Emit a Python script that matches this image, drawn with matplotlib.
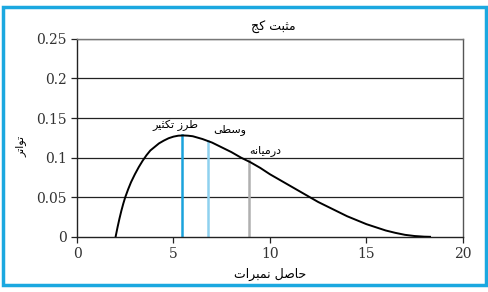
import matplotlib
matplotlib.use("Agg")
import matplotlib.pyplot as plt
import matplotlib.patches as mpatches

# curve (score vs frequency)
scores = [2.0, 2.1, 2.2, 2.3, 2.4, 2.5, 2.65, 2.8, 3.0, 3.2, 3.4, 3.6, 3.8,
          4.0, 4.25, 4.5, 4.75, 5.0, 5.25, 5.5, 5.75, 6.0, 6.5, 7.0, 7.5,
          8.0, 8.5, 9.0, 9.5, 10.0, 10.5, 11.0, 11.5, 12.0, 12.5, 13.0, 13.5,
          14.0, 14.5, 15.0, 15.5, 16.0, 16.5, 17.0, 17.5, 18.0, 18.3]
freq = [0.0, 0.012, 0.023, 0.033, 0.042, 0.050, 0.060, 0.069, 0.079, 0.088,
        0.096, 0.103, 0.109, 0.113, 0.118, 0.1215, 0.1245, 0.1265, 0.1277,
        0.128, 0.1277, 0.127, 0.1235, 0.119, 0.113, 0.107, 0.100, 0.094,
        0.087, 0.079, 0.072, 0.065, 0.058, 0.051, 0.044, 0.038, 0.032, 0.026,
        0.021, 0.016, 0.012, 0.008, 0.005, 0.0025, 0.001, 0.0002, 0.0]

# mode, median, mean markers
marker_x = [5.45, 6.8, 8.9]
marker_y = [0.128, 0.121, 0.097]
marker_colors = ['#1aa3dc', '#8fd1ef', '#b0b0b0']
marker_labels = ['طرز تکثیر', 'وسطی', 'درمیانہ']
label_x = [5.1, 7.9, 9.75]
label_y = [0.141, 0.135, 0.109]

yticks = [0, 0.05, 0.1, 0.15, 0.2, 0.25]
ytick_labels = ['0', '0.05', '0.1', '0.15', '0.2', '0.25']
xticks = [0, 5, 10, 15, 20]

title = 'مثبت کج'
xlabel = 'حاصل نمبرات'
ylabel = 'تواتر'

# matplotlib has no arabic shaping, so pick presentation forms by hand
# (DejaVu has no final heh goal, the plain final heh stands in for it)
FORMS = {
    'م': ('\uFEE1', '\uFEE2', '\uFEE3', '\uFEE4'),
    'ث': ('\uFE99', '\uFE9A', '\uFE9B', '\uFE9C'),
    'ب': ('\uFE8F', '\uFE90', '\uFE91', '\uFE92'),
    'ت': ('\uFE95', '\uFE96', '\uFE97', '\uFE98'),
    'ج': ('\uFE9D', '\uFE9E', '\uFE9F', '\uFEA0'),
    'ک': ('\uFB8E', '\uFB8F', '\uFB90', '\uFB91'),
    'ط': ('\uFEC1', '\uFEC2', '\uFEC3', '\uFEC4'),
    'ی': ('\uFBFC', '\uFBFD', '\uFBFE', '\uFBFF'),
    'س': ('\uFEB1', '\uFEB2', '\uFEB3', '\uFEB4'),
    'ن': ('\uFEE5', '\uFEE6', '\uFEE7', '\uFEE8'),
    'ہ': ('\u06C1', '\uFEEA', '\uFEEB', '\uFEEC'),
    'ح': ('\uFEA1', '\uFEA2', '\uFEA3', '\uFEA4'),
    'ص': ('\uFEB9', '\uFEBA', '\uFEBB', '\uFEBC'),
    'ل': ('\uFEDD', '\uFEDE', '\uFEDF', '\uFEE0'),
    'ر': ('\uFEAD', '\uFEAE'),
    'ز': ('\uFEAF', '\uFEB0'),
    'و': ('\uFEED', '\uFEEE'),
    'د': ('\uFEA9', '\uFEAA'),
    'ا': ('\uFE8D', '\uFE8E'),
}


def shape(text):
    out = []
    for i, ch in enumerate(text):
        if ch not in FORMS:
            out.append(ch)
            continue
        prev = text[i - 1] if i > 0 else ''
        nxt = text[i + 1] if i + 1 < len(text) else ''
        join_prev = prev in FORMS and len(FORMS[prev]) == 4
        join_next = nxt in FORMS and len(FORMS[ch]) == 4
        f = FORMS[ch]
        if join_prev and join_next:
            out.append(f[3])
        elif join_prev:
            out.append(f[1])
        elif join_next:
            out.append(f[2])
        else:
            out.append(f[0])
    return ''.join(reversed(out))


fig = plt.figure(figsize=(4.89, 2.92), dpi=100)
ax = fig.add_axes([0.1575, 0.189, 0.789, 0.678])

for y in yticks[1:]:
    ax.axhline(y, color='#222222', linewidth=0.9, zorder=1)

ax.plot(scores, freq, color='black', linewidth=1.4, zorder=3,
        solid_joinstyle='round')

for x, y, c in zip(marker_x, marker_y, marker_colors):
    ax.plot([x, x], [0, y], color=c, linewidth=1.8, zorder=2)

for t, x, y in zip(marker_labels, label_x, label_y):
    ax.text(x, y, shape(t), ha='center', va='center', fontsize=8,
            family='DejaVu Sans')

ax.set_xlim(0, 20)
ax.set_ylim(0, 0.25)
ax.set_yticks(yticks)
ax.set_yticklabels(ytick_labels)
ax.set_xticks(xticks)
ax.tick_params(axis='both', direction='out', length=4, width=0.9,
               colors='#222222', labelsize=10, labelcolor='#333333')
for lab in ax.get_xticklabels() + ax.get_yticklabels():
    lab.set_family('DejaVu Serif')

ax.spines['left'].set_color('#222222')
ax.spines['bottom'].set_color('#222222')
ax.spines['top'].set_color('#777777')
ax.spines['right'].set_color('#555555')
for s in ax.spines.values():
    s.set_linewidth(1.0)

fig.text(0.558, 0.905, shape(title), ha='center', va='center', fontsize=9,
         family='DejaVu Sans')
fig.text(0.552, 0.06, shape(xlabel), ha='center', va='center', fontsize=9,
         family='DejaVu Sans')
fig.text(0.042, 0.5, shape(ylabel), ha='center', va='center', fontsize=8,
         rotation=90, family='DejaVu Sans')

# blue frame around the whole figure
frame = mpatches.Rectangle((3 / 489, 7 / 292), 483 / 489, 278 / 292,
                           transform=fig.transFigure, fill=False,
                           edgecolor='#1ba8e0', linewidth=2.5)
fig.patches.append(frame)

fig.savefig('out.png', dpi=100)
